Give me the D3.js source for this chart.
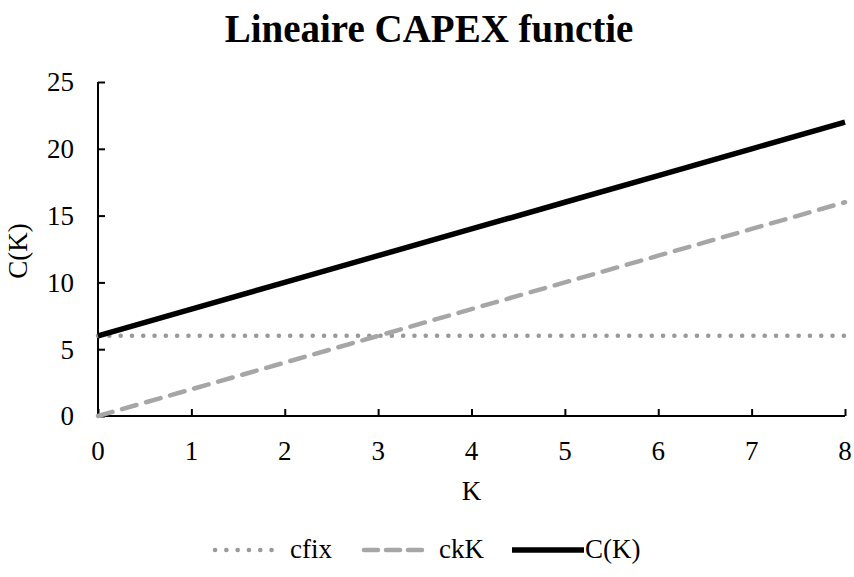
<!DOCTYPE html>
<html>
<head>
<meta charset="utf-8">
<script src="https://cdn.jsdelivr.net/npm/d3@7"></script>
<style>
  body { margin: 0; background: #fff; }
  text { font-family: "Liberation Serif", "Times New Roman", serif; }
</style>
</head>
<body>
<div id="chart"></div>
<script>
// data
var kValues = [0, 1, 2, 3, 4, 5, 6, 7, 8];
var cfix = [6, 6, 6, 6, 6, 6, 6, 6, 6];
var ckK = [0, 2, 4, 6, 8, 10, 12, 14, 16];
var cK = [6, 8, 10, 12, 14, 16, 18, 20, 22];
var yTicks = [0, 5, 10, 15, 20, 25];
var xTicks = [0, 1, 2, 3, 4, 5, 6, 7, 8];

var width = 854, height = 577;
var margin = {left: 98, right: 9, top: 82, bottom: 161};

var svg = d3.select("#chart").append("svg")
  .attr("width", width)
  .attr("height", height);

var x = d3.scaleLinear().domain([0, 8]).range([margin.left, width - margin.right]);
var y = d3.scaleLinear().domain([0, 25]).range([height - margin.bottom, margin.top]);

// title
svg.append("text")
  .attr("x", 429).attr("y", 42)
  .attr("text-anchor", "middle")
  .style("font-size", "39px")
  .style("font-weight", "bold")
  .text("Lineaire CAPEX functie");

// axes (ticks point inward)
var yAxis = svg.append("g")
  .attr("transform", "translate(" + margin.left + ",0)")
  .call(d3.axisRight(y).tickValues(yTicks).tickSize(7).tickFormat(""));
yAxis.selectAll("path, line").attr("stroke", "#000").attr("stroke-width", 2);
yAxis.select(".domain").attr("d", "M0," + y(25) + "V" + y(0));

var xAxis = svg.append("g")
  .attr("transform", "translate(0," + y(0) + ")")
  .call(d3.axisTop(x).tickValues(xTicks).tickSize(7).tickFormat(""));
xAxis.selectAll("path, line").attr("stroke", "#000").attr("stroke-width", 2);
xAxis.select(".domain").attr("d", "M" + x(0) + ",0H" + x(8));

// tick labels
svg.append("g").selectAll("text")
  .data(yTicks).enter().append("text")
  .attr("x", margin.left - 24)
  .attr("y", function(d) { return y(d); })
  .attr("dy", "0.35em")
  .attr("text-anchor", "end")
  .style("font-size", "27px")
  .text(function(d) { return d; });

svg.append("g").selectAll("text")
  .data(xTicks).enter().append("text")
  .attr("x", function(d) { return x(d); })
  .attr("y", 460)
  .attr("text-anchor", "middle")
  .style("font-size", "27px")
  .text(function(d) { return d; });

// axis titles
svg.append("text")
  .attr("transform", "translate(27," + ((y(0) + y(25)) / 2 + 2) + ") rotate(-90)")
  .attr("text-anchor", "middle")
  .style("font-size", "27px")
  .text("C(K)");

svg.append("text")
  .attr("x", (x(0) + x(8)) / 2)
  .attr("y", 500)
  .attr("text-anchor", "middle")
  .style("font-size", "27px")
  .text("K");

// series
var series = [
  {name: "cfix", values: cfix, color: "#999999", width: 4.5, dash: "0.1,11.2", cap: "round"},
  {name: "ckK", values: ckK, color: "#a6a6a6", width: 4.5, dash: "15,10", cap: "round"},
  {name: "C(K)", values: cK, color: "#000000", width: 5.5, dash: null, cap: "butt"}
];

var line = d3.line()
  .x(function(d, i) { return x(kValues[i]); })
  .y(function(d) { return y(d); });

svg.append("g").selectAll("path")
  .data(series).enter().append("path")
  .attr("d", function(s) { return line(s.values); })
  .attr("fill", "none")
  .attr("stroke", function(s) { return s.color; })
  .attr("stroke-width", function(s) { return s.width; })
  .attr("stroke-dasharray", function(s) { return s.dash; })
  .attr("stroke-linecap", function(s) { return s.cap; });

// legend
var legendX = [215, 364, 512];
var legend = svg.append("g").selectAll("g")
  .data(series).enter().append("g")
  .attr("transform", function(s, i) { return "translate(" + legendX[i] + ",550)"; });

legend.append("line")
  .attr("x1", 0).attr("x2", function(s, i) { return i == 2 ? 72 : 66; })
  .attr("y1", 0).attr("y2", 0)
  .attr("stroke", function(s) { return s.color; })
  .attr("stroke-width", function(s) { return s.width; })
  .attr("stroke-dasharray", function(s, i) { return i == 1 ? "14,8" : s.dash; })
  .attr("stroke-linecap", function(s) { return s.cap; });

legend.append("text")
  .attr("x", function(s, i) { return i == 2 ? 73 : 75; })
  .attr("y", 0)
  .attr("dy", "0.3em")
  .style("font-size", "27px")
  .text(function(s) { return s.name; });
</script>
</body>
</html>
